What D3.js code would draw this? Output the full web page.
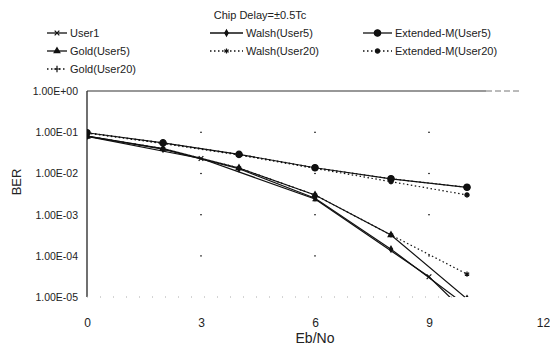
<!DOCTYPE html>
<html><head><meta charset="utf-8">
<script src="https://cdn.jsdelivr.net/npm/d3@7"></script>
<style>body{margin:0;background:#fff}svg{display:block}text{font-family:"Liberation Sans",Arial,sans-serif;fill:#222}</style>
</head><body><svg id="c" width="550" height="350"></svg>
<script>
const title = "Chip Delay=±0.5Tc";
const xTicks = [0, 3, 6, 9, 12];
const yTicks = [1, 1e-1, 1e-2, 1e-3, 1e-4, 1e-5];
const yTickLabels = ["1.00E+00", "1.00E-01", "1.00E-02", "1.00E-03", "1.00E-04", "1.00E-05"];
const xLabel = "Eb/No", yLabel = "BER";

const seriesNames = ["User1", "Gold(User5)", "Gold(User20)", "Walsh(User5)", "Walsh(User20)", "Extended-M(User5)", "Extended-M(User20)"];
const user1X = [0, 3, 6, 9, 10];
const user1Y = [0.079, 0.023, 0.0024, 3.1e-5, 3.9e-6];
const snrX = [0, 2, 4, 6, 8, 10];
const gold5Y = [0.080, 0.040, 0.0135, 0.0030, 3.2e-4, 9e-6];
const gold20Y = [0.097, 0.055, 0.029, 0.0137, 0.0074, 0.0046];
const walsh5Y = [0.080, 0.039, 0.0130, 0.0025, 1.45e-4, 6e-6];
const walsh20Y = [0.080, 0.040, 0.0135, 0.0030, 3.2e-4, 3.6e-5];
const extM5Y = [0.097, 0.055, 0.029, 0.0137, 0.0074, 0.0046];
const extM20Y = [0.095, 0.053, 0.028, 0.0132, 0.0063, 0.0030];

const svg = d3.select("#c");
const x = d3.scaleLinear().domain([0, 12]).range([87, 543]);
const y = d3.scaleLog().domain([1e-5, 1]).range([297, 91]);

const series = [
  {name: seriesNames[0], xs: user1X, ys: user1Y, dash: null, sym: d3.symbolX, size: 16, fill: false},
  {name: seriesNames[1], xs: snrX, ys: gold5Y, dash: null, sym: d3.symbolTriangle, size: 14, fill: true},
  {name: seriesNames[2], xs: snrX, ys: gold20Y, dash: "1.5,2.5", sym: d3.symbolPlus, size: 16, fill: false},
  {name: seriesNames[3], xs: snrX, ys: walsh5Y, dash: null, sym: d3.symbolDiamond, size: 10, fill: true},
  {name: seriesNames[4], xs: snrX, ys: walsh20Y, dash: "1.5,2.5", sym: d3.symbolAsterisk, size: 18, fill: false},
  {name: seriesNames[5], xs: snrX, ys: extM5Y, dash: null, sym: d3.symbolCircle, size: 32, fill: true},
  {name: seriesNames[6], xs: snrX, ys: extM20Y, dash: "1.5,2.5", sym: d3.symbolCircle, size: 14, fill: true}
];

// title
svg.append("text").attr("x", 260).attr("y", 19).attr("text-anchor", "middle").attr("font-size", 11).text(title);

// legend
const legPos = [[47, 33, 20], [47, 51, 20], [47, 69, 20], [210, 33, 33], [210, 51, 33], [363, 33, 29], [363, 51, 29]];
series.forEach((s, i) => {
  const [lx, ly, lw] = legPos[i];
  const g = svg.append("g");
  g.append("line").attr("x1", lx).attr("x2", lx + lw).attr("y1", ly).attr("y2", ly)
    .attr("stroke", "#111").attr("stroke-width", 1.3).attr("stroke-dasharray", s.dash);
  g.append("path").attr("d", d3.symbol(s.sym, s.size)()).attr("transform", `translate(${lx + lw / 2},${ly})`)
    .attr("fill", s.fill ? "#111" : "none").attr("stroke", "#111").attr("stroke-width", 1.2);
  g.append("text").attr("x", lx + lw + 3).attr("y", ly + 4).attr("font-size", 11).text(s.name);
});

// axes frame
svg.append("line").attr("x1", x(0)).attr("x2", x(0)).attr("y1", y(1)).attr("y2", y(1e-5)).attr("stroke", "#111").attr("stroke-width", 1.2);
svg.append("line").attr("x1", x(0)).attr("x2", x(10.5)).attr("y1", y(1)).attr("y2", y(1)).attr("stroke", "#333").attr("stroke-width", 1.2);
svg.append("line").attr("x1", x(10.5)).attr("x2", x(11.4)).attr("y1", y(1)).attr("y2", y(1)).attr("stroke", "#777").attr("stroke-width", 1).attr("stroke-dasharray", "6,3");
svg.append("line").attr("x1", x(0)).attr("x2", x(10)).attr("y1", y(1e-5)).attr("y2", y(1e-5)).attr("stroke", "#aaa").attr("stroke-width", 1).attr("stroke-dasharray", "1,12");

// grid dots at intersections
const gx = [3, 6, 9], gy = [1e-1, 1e-2, 1e-3, 1e-4];
gx.forEach(a => gy.forEach(b => {
  svg.append("rect").attr("x", x(a) - 1).attr("y", y(b) - 0.5).attr("width", 2).attr("height", 1.2).attr("fill", "#444");
}));

// y tick labels
yTicks.forEach((t, i) => {
  svg.append("text").attr("x", 78).attr("y", y(t) + 4).attr("text-anchor", "end").attr("font-size", 10.5).text(yTickLabels[i]);
});
// x tick labels
const xAxis = d3.axisBottom(x).tickValues(xTicks).tickSize(0).tickPadding(0);
const xg = svg.append("g").attr("transform", `translate(0,${y(1e-5) + 21})`).call(xAxis);
xg.select(".domain").remove();
xg.selectAll("text").attr("font-size", 12).attr("fill", "#222").attr("font-family", "Liberation Sans, Arial, sans-serif");

svg.append("text").attr("x", 315).attr("y", 343).attr("text-anchor", "middle").attr("font-size", 14).text(xLabel);
svg.append("text").attr("transform", "translate(21,182) rotate(-90)").attr("text-anchor", "middle").attr("font-size", 13).text(yLabel);

// clip
svg.append("clipPath").attr("id", "clip").append("rect").attr("x", x(0)).attr("y", y(1)).attr("width", x(12) - x(0)).attr("height", y(1e-5) - y(1));
const plot = svg.append("g").attr("clip-path", "url(#clip)");
const line = d3.line().x(d => x(d[0])).y(d => y(d[1]));
series.forEach(s => {
  const pts = s.xs.map((v, i) => [v, s.ys[i]]);
  plot.append("path").attr("d", line(pts)).attr("fill", "none").attr("stroke", "#111")
    .attr("stroke-width", 1.2).attr("stroke-dasharray", s.dash);
  pts.forEach(p => {
    plot.append("path").attr("d", d3.symbol(s.sym, s.size)()).attr("transform", `translate(${x(p[0])},${y(p[1])})`)
      .attr("fill", s.fill ? "#111" : "none").attr("stroke", "#111").attr("stroke-width", 1.2);
  });
});
</script></body></html>
